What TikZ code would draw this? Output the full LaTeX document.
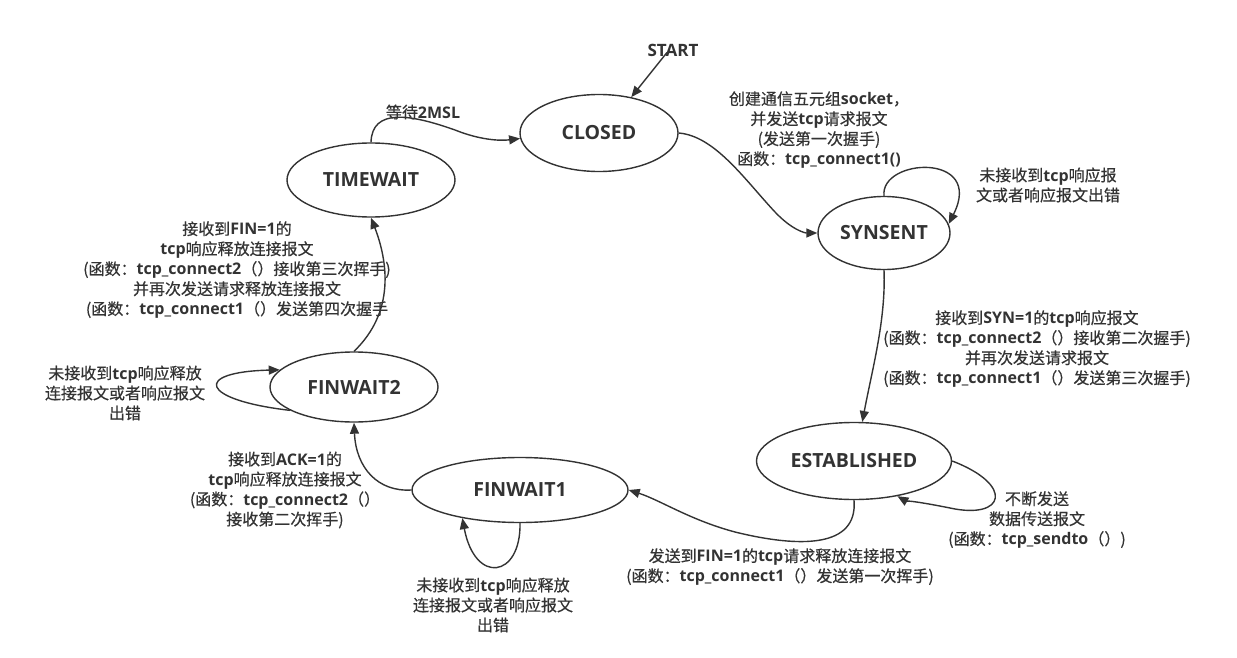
\documentclass[tikz,border=0pt]{standalone}
\usepackage{fontspec}
\setmainfont{Noto Sans CJK SC}[FakeBold=0.5]
\newfontfamily\latf{Open Sans}
\usetikzlibrary{shapes.geometric,arrows.meta}
\definecolor{ink}{RGB}{51,51,51}
\newcommand{\B}[1]{{\latf\bfseries #1}}
\begin{document}
\begin{tikzpicture}[x=1pt,y=-1pt,
  state/.style={draw=ink, line width=1.4pt, ellipse, inner sep=0pt,
    font=\latf\bfseries\fontsize{19.5}{22}\selectfont, text=ink},
  lbl/.style={align=center, font=\fontsize{16}{20}\selectfont, text=ink, inner sep=0pt},
  conn/.style={draw=ink, line width=1.4pt, -{Triangle[length=11pt,width=9pt]}}]
\useasboundingbox (0,0) rectangle (1237,658);

% states
\node[state, minimum width=158pt, minimum height=77pt] (cl) at (599,133) {CLOSED};
\node[state, minimum width=168pt, minimum height=74pt] (tw) at (371,180) {TIMEWAIT};
\node[state, minimum width=132pt, minimum height=73pt] (ss) at (884,233) {SYNSENT};
\node[state, minimum width=195pt, minimum height=77pt] (est) at (854,461) {ESTABLISHED};
\node[state, minimum width=216pt, minimum height=65pt] (fw1) at (520,490) {FINWAIT1};
\node[state, minimum width=168pt, minimum height=70pt] (fw2) at (354,387) {FINWAIT2};

\node[text=ink, font=\latf\bfseries\fontsize{17}{19}\selectfont, inner sep=0pt] (st) at (673,50) {START};

% labels
\node[lbl] (l1) at (423,112) {等待\B{2MSL}};
\node[lbl] (l2) at (819,130) {创建通信五元组\B{socket}，\\ 并发送\B{tcp}请求报文\\(发送第一次握手)\\函数：\B{tcp\_connect1()}};
\node[lbl] (l3) at (1048,185) {未接收到\B{tcp}响应报\\文或者响应报文出错};
\node[lbl] (l4) at (1037,349) {接收到\B{SYN=1}的\B{tcp}响应报文\\(函数：\B{tcp\_connect2}（）接收第二次握手)\\并再次发送请求报文\\(函数：\B{tcp\_connect1}（）发送第三次握手)};
\node[lbl] (l5) at (1037,520) {不断发送\\数据传送报文\\(函数：\B{tcp\_sendto}（）)};
\node[lbl] (l6) at (780,567) {发送到\B{FIN=1}的\B{tcp}请求释放连接报文\\(函数：\B{tcp\_connect1}（）发送第一次挥手)};
\node[lbl] (l7) at (493,605) {未接收到\B{tcp}响应释放\\连接报文或者响应报文\\出错};
\node[lbl] (l8) at (285,490) {接收到\B{ACK=1}的\\\B{tcp}响应释放连接报文\\(函数：\B{tcp\_connect2}（）\\接收第二次挥手)};
\node[lbl] (l9) at (125,393) {未接收到\B{tcp}响应释放\\连接报文或者响应报文\\出错};
\node[lbl] (l10) at (237,270) {接收到\B{FIN=1}的\\\B{tcp}响应释放连接报文\\(函数：\B{tcp\_connect2}（）接收第三次挥手)\\并再次发送请求释放连接报文\\(函数：\B{tcp\_connect1}（）发送第四次握手};

% connectors
\draw[conn] ([xshift=-6pt,yshift=4pt]st.south) -- (cl.48);
\draw[conn] (tw.north) .. controls (372,108) and (410,114) .. (455,130)
  .. controls (480,140) and (500,141) .. (cl.184);
\draw[conn] (cl.east) .. controls (715,136) and (745,180) .. (775,212)
  .. controls (792,230) and (805,233) .. (ss.west);
\draw[conn] (ss.north) .. controls (880,158) and (985,152) .. (ss.8);
\draw[conn] (ss.south) .. controls (886,320) and (872,370) .. (est.78);
\draw[conn] (est.east) .. controls (1015,485) and (1005,520) .. (950,508)
  .. controls (920,502) and (904,500) .. (est.321);
\draw[conn] (est.south) .. controls (858,548) and (800,548) .. (735,532)
  .. controls (690,520) and (660,500) .. (fw1.east);
\draw[conn] (fw1.south) .. controls (521,578) and (475,585) .. (fw1.206);
\draw[conn] (fw1.west) .. controls (378,492) and (356,468) .. (fw2.south);
\draw[conn] (fw2.200) .. controls (200,400) and (192,372) .. (fw2.167);
\draw[conn] (fw2.north) .. controls (395,312) and (388,262) .. (tw.south);
\end{tikzpicture}
\end{document}
